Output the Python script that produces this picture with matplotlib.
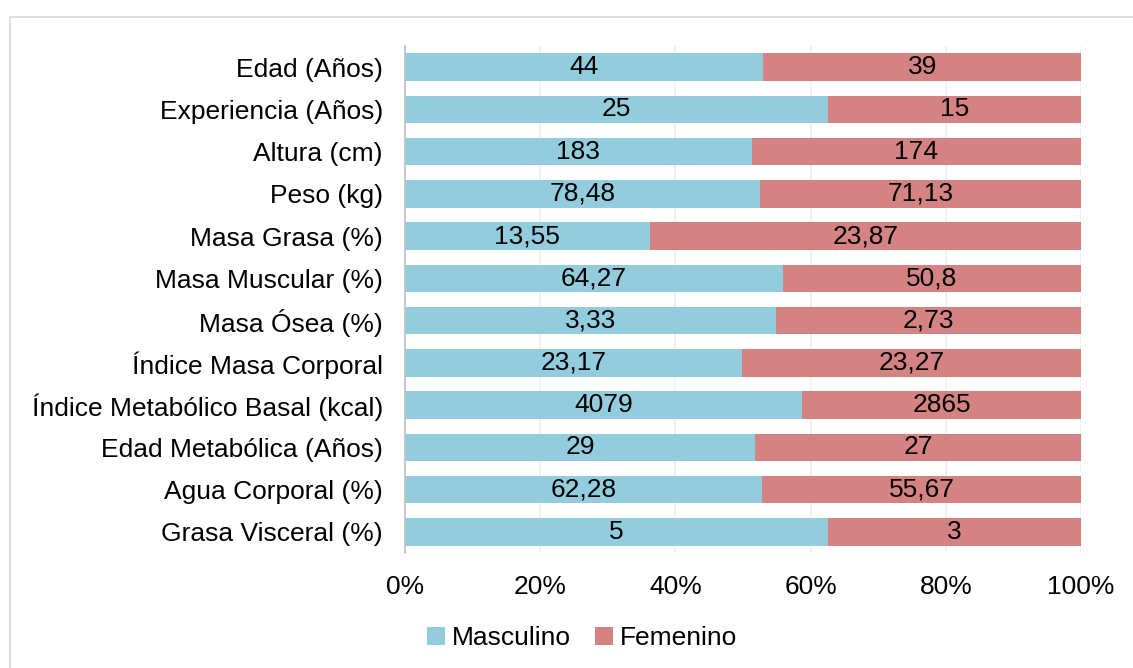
import numpy as np
import matplotlib.pyplot as plt
from matplotlib.patches import Rectangle

plt.rcParams['font.family'] = ['Liberation Sans', 'DejaVu Sans']

categories = ["Edad (Años)", "Experiencia (Años)", "Altura (cm)", "Peso (kg)",
              "Masa Grasa (%)", "Masa Muscular (%)", "Masa Ósea (%)",
              "Índice Masa Corporal", "Índice Metabólico Basal (kcal)",
              "Edad Metabólica (Años)", "Agua Corporal (%)", "Grasa Visceral (%)"]
masculino = [44, 25, 183, 78.48, 13.55, 64.27, 3.33, 23.17, 4079, 29, 62.28, 5]
femenino = [39, 15, 174, 71.13, 23.87, 50.8, 2.73, 23.27, 2865, 27, 55.67, 3]

blue = "#93CDDD"
red = "#D48382"
fs = 19

def fmt(v):
    s = ("%g" % v)
    return s.replace(".", ",")

m = np.array(masculino, dtype=float)
f = np.array(femenino, dtype=float)
tot = m + f
mp = m / tot
fp = f / tot
y = np.arange(len(categories))

fig = plt.figure(figsize=(11.33, 6.68), dpi=100)
ax = fig.add_axes([405 / 1133, 1 - 553 / 668, (1081 - 405) / 1133, (553 - 46) / 668])

# outer chart border
fig.patches.append(Rectangle((10 / 1133, -0.1), 1.2, 1 - 17 / 668 + 0.1,
                             transform=fig.transFigure, fill=False,
                             edgecolor="#D9D9D9", linewidth=1.2))

ax.barh(y, mp, height=0.65, color=blue, label="Masculino", zorder=2)
ax.barh(y, fp, left=mp, height=0.65, color=red, label="Femenino", zorder=2)

for i in range(len(categories)):
    ax.text(mp[i] / 2, y[i], fmt(masculino[i]), ha="center", va="center", fontsize=fs, zorder=4)
    ax.text(mp[i] + fp[i] / 2, y[i], fmt(femenino[i]), ha="center", va="center", fontsize=fs, zorder=4)

ax.set_ylim(len(categories) - 0.5, -0.5)
ax.set_xlim(0, 1)
ax.set_yticks(y)
ax.set_yticklabels(categories, fontsize=fs)
ax.set_xticks(np.linspace(0, 1, 6))
ax.set_xticklabels(["0%", "20%", "40%", "60%", "80%", "100%"], fontsize=fs)
ax.tick_params(axis="y", length=0, pad=16)
ax.tick_params(axis="x", length=0, pad=16)
ax.grid(axis="x", color="#BFBFBF", alpha=0.25, linewidth=1.2, zorder=3)
for s in ["top", "right", "bottom"]:
    ax.spines[s].set_visible(False)
ax.spines["left"].set_color("#BFBFBF")
ax.spines["left"].set_linewidth(1.2)
ax.spines["left"].set_zorder(3)

fig.legend(loc="center", bbox_to_anchor=(582 / 1133, 1 - 638 / 668), ncol=2,
           frameon=False, fontsize=fs, handlelength=0.7, handleheight=0.7,
           handletextpad=0.25, columnspacing=0.9)

fig.savefig("out.png", dpi=100)
